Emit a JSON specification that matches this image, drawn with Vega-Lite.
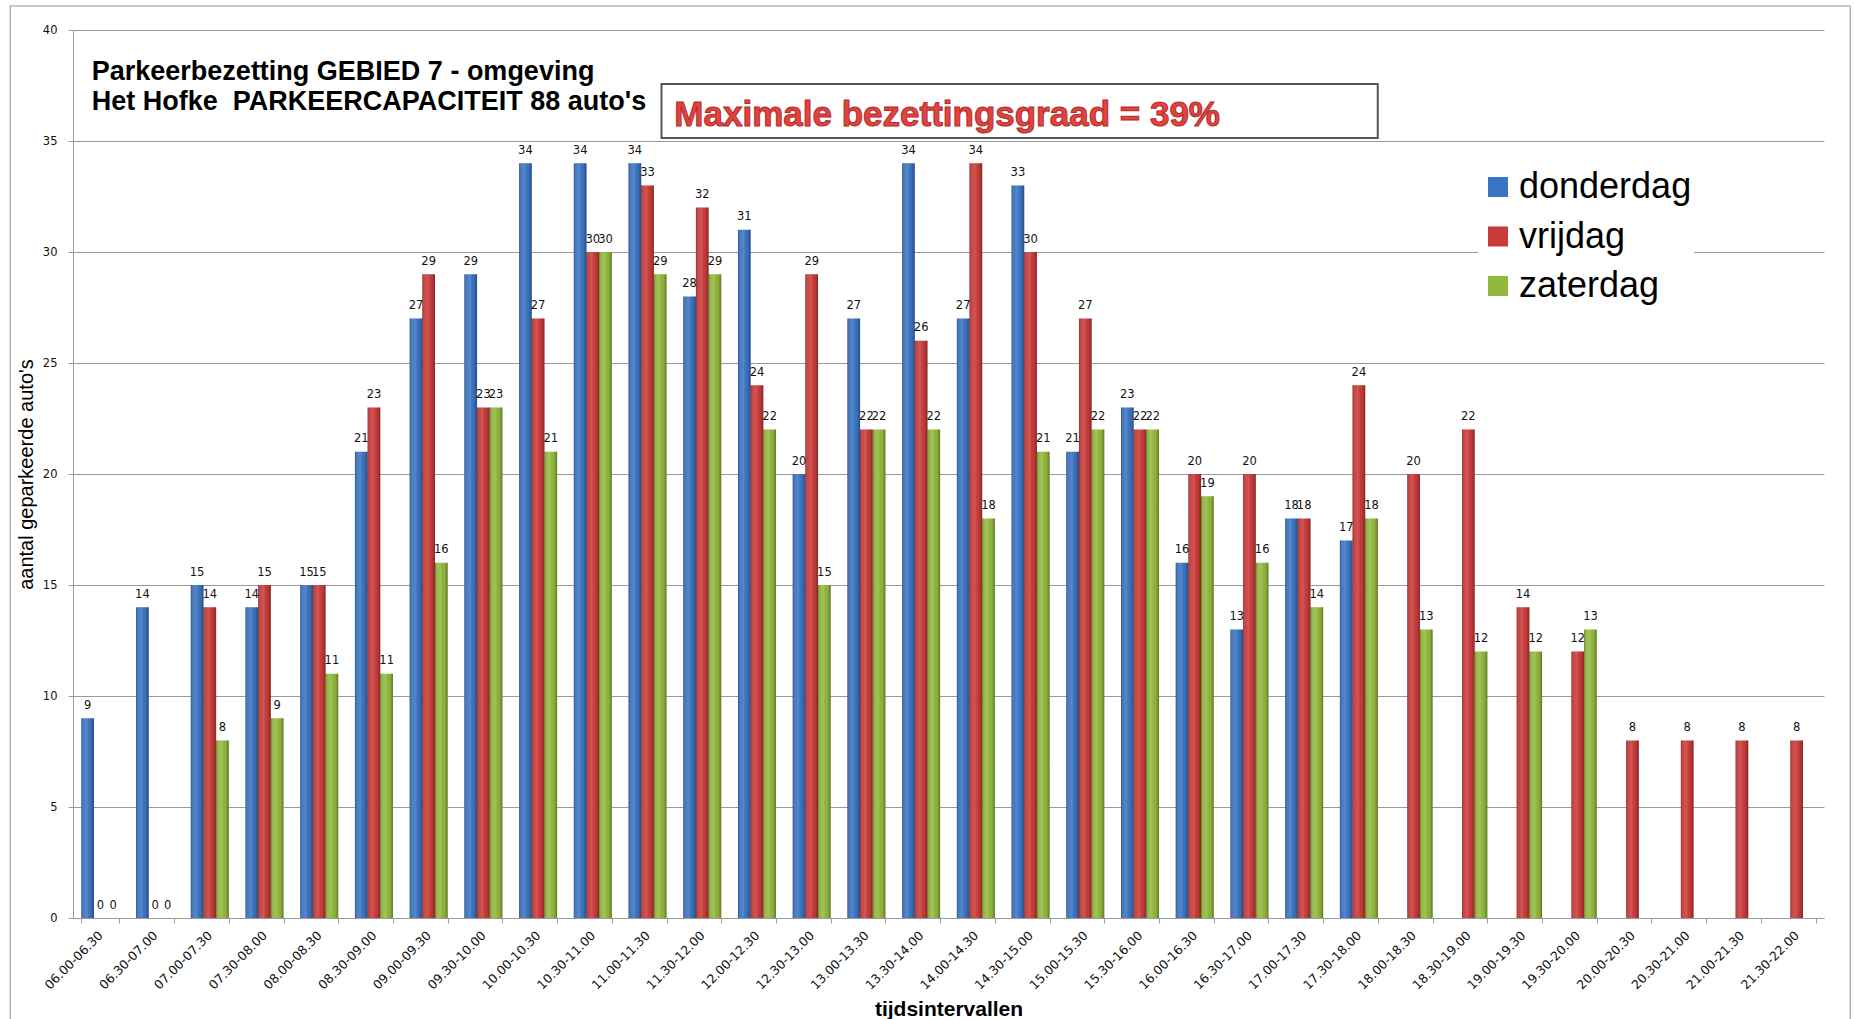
{
  "$schema": "https://vega.github.io/schema/vega-lite/v6.json",
  "width": 1751,
  "height": 888,
  "autosize": {"type": "none"},
  "padding": {"left": 73, "top": 30, "right": 30, "bottom": 101},
  "background": "white",
  "config": {
    "view": {"stroke": null},
    "font": "Liberation Sans"
  },
  "layer": [
    {
      "data": {
        "values": [
          {"tijd": "06.00-06.30", "donderdag": 9, "vrijdag": 0, "zaterdag": 0},
          {"tijd": "06.30-07.00", "donderdag": 14, "vrijdag": 0, "zaterdag": 0},
          {"tijd": "07.00-07.30", "donderdag": 15, "vrijdag": 14, "zaterdag": 8},
          {"tijd": "07.30-08.00", "donderdag": 14, "vrijdag": 15, "zaterdag": 9},
          {"tijd": "08.00-08.30", "donderdag": 15, "vrijdag": 15, "zaterdag": 11},
          {"tijd": "08.30-09.00", "donderdag": 21, "vrijdag": 23, "zaterdag": 11},
          {"tijd": "09.00-09.30", "donderdag": 27, "vrijdag": 29, "zaterdag": 16},
          {"tijd": "09.30-10.00", "donderdag": 29, "vrijdag": 23, "zaterdag": 23},
          {"tijd": "10.00-10.30", "donderdag": 34, "vrijdag": 27, "zaterdag": 21},
          {"tijd": "10.30-11.00", "donderdag": 34, "vrijdag": 30, "zaterdag": 30},
          {"tijd": "11.00-11.30", "donderdag": 34, "vrijdag": 33, "zaterdag": 29},
          {"tijd": "11.30-12.00", "donderdag": 28, "vrijdag": 32, "zaterdag": 29},
          {"tijd": "12.00-12.30", "donderdag": 31, "vrijdag": 24, "zaterdag": 22},
          {"tijd": "12.30-13.00", "donderdag": 20, "vrijdag": 29, "zaterdag": 15},
          {"tijd": "13.00-13.30", "donderdag": 27, "vrijdag": 22, "zaterdag": 22},
          {"tijd": "13.30-14.00", "donderdag": 34, "vrijdag": 26, "zaterdag": 22},
          {"tijd": "14.00-14.30", "donderdag": 27, "vrijdag": 34, "zaterdag": 18},
          {"tijd": "14.30-15.00", "donderdag": 33, "vrijdag": 30, "zaterdag": 21},
          {"tijd": "15.00-15.30", "donderdag": 21, "vrijdag": 27, "zaterdag": 22},
          {"tijd": "15.30-16.00", "donderdag": 23, "vrijdag": 22, "zaterdag": 22},
          {"tijd": "16.00-16.30", "donderdag": 16, "vrijdag": 20, "zaterdag": 19},
          {"tijd": "16.30-17.00", "donderdag": 13, "vrijdag": 20, "zaterdag": 16},
          {"tijd": "17.00-17.30", "donderdag": 18, "vrijdag": 18, "zaterdag": 14},
          {"tijd": "17.30-18.00", "donderdag": 17, "vrijdag": 24, "zaterdag": 18},
          {"tijd": "18.00-18.30", "donderdag": null, "vrijdag": 20, "zaterdag": 13},
          {"tijd": "18.30-19.00", "donderdag": null, "vrijdag": 22, "zaterdag": 12},
          {"tijd": "19.00-19.30", "donderdag": null, "vrijdag": 14, "zaterdag": 12},
          {"tijd": "19.30-20.00", "donderdag": null, "vrijdag": 12, "zaterdag": 13},
          {"tijd": "20.00-20.30", "donderdag": null, "vrijdag": 8, "zaterdag": null},
          {"tijd": "20.30-21.00", "donderdag": null, "vrijdag": 8, "zaterdag": null},
          {"tijd": "21.00-21.30", "donderdag": null, "vrijdag": 8, "zaterdag": null},
          {"tijd": "21.30-22.00", "donderdag": null, "vrijdag": 8, "zaterdag": null}
        ]
      },
      "transform": [
        {"fold": ["donderdag", "vrijdag", "zaterdag"], "as": ["dag", "n"]},
        {"filter": {"field": "n", "valid": true}}
      ],
      "encoding": {
        "x": {
          "field": "tijd",
          "type": "nominal",
          "sort": null,
          "title": "tijdsintervallen",
          "scale": {"paddingInner": 0.305, "paddingOuter": 0.1525},
          "axis": {
            "labelAngle": -45,
            "labelAlign": "right",
            "labelBaseline": "middle",
            "labelFont": "DejaVu Sans",
            "labelFontSize": 12.5,
            "labelColor": "#111111",
            "labelPadding": 10,
            "tickBand": "extent",
            "tickSize": 5,
            "tickColor": "#9a9a9a",
            "domainColor": "#9a9a9a",
            "grid": false,
            "titleFont": "Liberation Sans",
            "titleFontSize": 21,
            "titleFontWeight": "bold",
            "titleColor": "#000000",
            "titlePadding": 7
          }
        },
        "xOffset": {
          "field": "dag",
          "type": "nominal",
          "scale": {"domain": ["donderdag", "vrijdag", "zaterdag"], "paddingInner": 0, "paddingOuter": 0}
        },
        "y": {
          "field": "n",
          "type": "quantitative",
          "title": "aantal geparkeerde auto's",
          "scale": {"domain": [0, 40], "nice": false, "zero": true},
          "axis": {
            "values": [0, 5, 10, 15, 20, 25, 30, 35, 40],
            "grid": true,
            "gridColor": "#9a9a9a",
            "domainColor": "#9a9a9a",
            "tickColor": "#9a9a9a",
            "tickSize": 5,
            "labelFont": "DejaVu Sans",
            "labelFontSize": 11.5,
            "labelColor": "#111111",
            "labelPadding": 11,
            "titleFont": "Liberation Sans",
            "titleFontSize": 20,
            "titleFontWeight": "normal",
            "titleColor": "#000000",
            "titlePadding": 6
          }
        }
      },
      "layer": [
        {
          "mark": {"type": "bar"},
          "encoding": {
            "color": {
              "field": "dag",
              "type": "nominal",
              "scale": {
                "domain": ["donderdag", "vrijdag", "zaterdag"],
                "range": ["#3b74c2", "#c93b39", "#92b93d"]
              },
              "legend": {
                "orient": "none",
                "legendX": 1405,
                "legendY": 137,
                "title": null,
                "symbolType": "square",
                "symbolSize": 400,
                "symbolStrokeWidth": 0,
                "labelFont": "Liberation Sans",
                "labelFontSize": 36,
                "labelColor": "#000000",
                "labelOffset": 3,
                "labelLimit": 400,
                "rowPadding": 13.5,
                "padding": 2,
                "fillColor": "white"
              }
            }
          }
        },
        {
          "mark": {
            "type": "bar",
            "fill": {
              "gradient": "linear",
              "x1": 0, "y1": 0, "x2": 1, "y2": 0,
              "stops": [
                {"offset": 0, "color": "rgba(0,0,0,0.32)"},
                {"offset": 0.22, "color": "rgba(255,255,255,0.06)"},
                {"offset": 0.42, "color": "rgba(255,255,255,0.14)"},
                {"offset": 0.75, "color": "rgba(0,0,0,0.04)"},
                {"offset": 1, "color": "rgba(0,0,0,0.34)"}
              ]
            }
          }
        },
        {
          "mark": {
            "type": "text",
            "baseline": "alphabetic",
            "dy": -9.5,
            "font": "DejaVu Sans",
            "fontSize": 11.5,
            "color": "#111111"
          },
          "encoding": {"text": {"field": "n", "type": "quantitative"}}
        }
      ]
    },
    {
      "data": {"values": [{}]},
      "layer": [
        {
          "mark": {"type": "rect", "fill": null, "stroke": "#b5b5b5", "strokeWidth": 1.5},
          "encoding": {
            "x": {"datum": -1.146, "type": "quantitative", "scale": {"domain": [0, 32], "nice": false, "zero": false}, "axis": null},
            "x2": {"datum": 32.48},
            "y": {"datum": -5, "type": "quantitative", "scale": {"domain": [0, 40], "nice": false}, "axis": null},
            "y2": {"datum": 41.08}
          }
        },
        {
          "mark": {"type": "rect", "fill": "white", "stroke": "#555555", "strokeWidth": 2},
          "encoding": {
            "x": {"datum": 10.755, "type": "quantitative", "scale": {"domain": [0, 32], "nice": false, "zero": false}, "axis": null},
            "x2": {"datum": 23.845},
            "y": {"datum": 35.14, "type": "quantitative", "scale": {"domain": [0, 40], "nice": false}, "axis": null},
            "y2": {"datum": 37.57}
          }
        },
        {
          "mark": {
            "type": "text",
            "text": ["Parkeerbezetting GEBIED 7 - omgeving", "Het Hofke\u00a0 PARKEERCAPACITEIT 88 auto's"],
            "align": "left",
            "baseline": "alphabetic",
            "lineHeight": 30,
            "font": "Liberation Sans",
            "fontSize": 27,
            "fontWeight": "bold",
            "color": "#000000"
          },
          "encoding": {
            "x": {"datum": 0.343, "type": "quantitative", "scale": {"domain": [0, 32], "nice": false, "zero": false}, "axis": null},
            "y": {"datum": 37.75, "type": "quantitative", "scale": {"domain": [0, 40], "nice": false}, "axis": null}
          }
        },
        {
          "mark": {
            "type": "text",
            "text": "Maximale bezettingsgraad = 39%",
            "align": "left",
            "baseline": "alphabetic",
            "font": "Liberation Sans",
            "fontSize": 35,
            "fontWeight": "bold",
            "fill": "#e2433f",
            "stroke": "#b02c29",
            "strokeWidth": 1
          },
          "encoding": {
            "x": {"datum": 10.99, "type": "quantitative", "scale": {"domain": [0, 32], "nice": false, "zero": false}, "axis": null},
            "y": {"datum": 35.68, "type": "quantitative", "scale": {"domain": [0, 40], "nice": false}, "axis": null}
          }
        }
      ]
    }
  ],
  "resolve": {"scale": {"x": "independent"}, "axis": {"y": "independent"}}
}
